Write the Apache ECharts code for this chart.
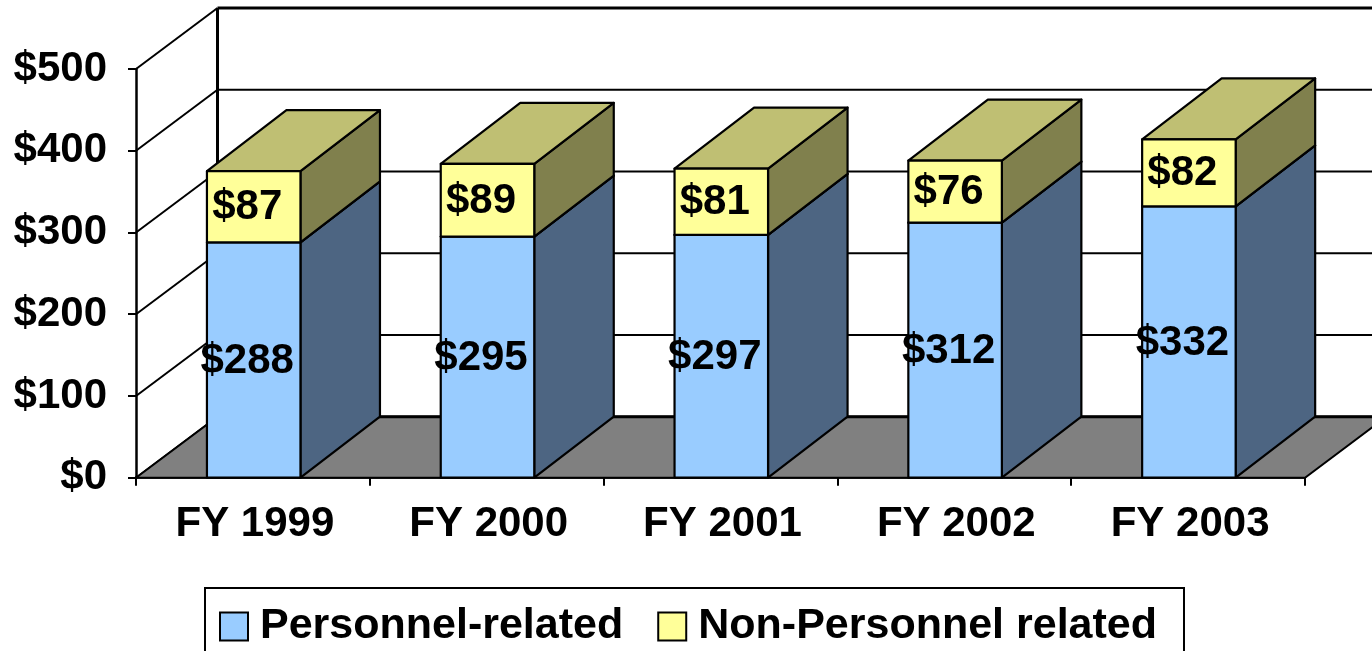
<!DOCTYPE html>
<html>
<head>
<meta charset="utf-8">
<style>
  html, body { margin: 0; padding: 0; background: #fff; overflow: hidden; }
  #chart { width: 1372px; height: 651px; }
</style>
</head>
<body>
<div id="chart"></div>
<script src="https://cdn.jsdelivr.net/npm/echarts@6/dist/echarts.min.js"></script>
<script>
const categories = ['FY 1999', 'FY 2000', 'FY 2001', 'FY 2002', 'FY 2003']
const personnel = [288, 295, 297, 312, 332]
const nonPersonnel = [87, 89, 81, 76, 82]
const yTicks = [0, 100, 200, 300, 400, 500]

const FONT = '"Liberation Sans", Arial, sans-serif'
// fake 3D offset of the box back edge, pixels
const WALL_DX = 81.5
const WALL_DY = -61
const BAR_DX = 79.5
const BAR_DY = -61
const BAR_RATIO = 0.4
const BAR_SHIFT = 0.8
const LABEL_SHIFT = -6.5

function poly(points, fill, z2) {
  return {
    type: 'polygon',
    z2: z2 || 1,
    shape: { points },
    style: { fill, stroke: '#000', lineWidth: 2.2, lineJoin: 'round' }
  }
}

function line(x1, y1, x2, y2, width) {
  return {
    type: 'line',
    shape: { x1, y1, x2, y2 },
    style: { stroke: '#000', lineWidth: width, fill: null }
  }
}

function renderWall(params, api) {
  const value = api.value(1)
  const band = api.size([1, 0])[0]
  const p = api.coord([0, value])
  const left = p[0] - band / 2
  const right = left + band * categories.length
  const children = [
    line(left, p[1], left + WALL_DX, p[1] + WALL_DY, 2)
  ]
  if (value > 0) {
    children.push(line(left + WALL_DX, p[1] + WALL_DY, right + WALL_DX, p[1] + WALL_DY, value === 500 ? 3 : 2))
  }
  if (value === 500) {
    const floor = api.coord([0, 0])
    children.push(line(left + WALL_DX, p[1] + WALL_DY, left + WALL_DX, floor[1] + WALL_DY, 3))
  }
  return { type: 'group', children }
}

function renderFloor(params, api) {
  const band = api.size([1, 0])[0]
  const p = api.coord([0, api.value(1)])
  const left = p[0] - band / 2
  const right = left + band * categories.length
  return {
    type: 'group',
    children: [
      {
        type: 'polygon',
        shape: {
          points: [
            [left, p[1]],
            [left + WALL_DX, p[1] + WALL_DY],
            [right + WALL_DX, p[1] + WALL_DY],
            [right, p[1]]
          ]
        },
        style: { fill: '#808080', stroke: '#000', lineWidth: 2 }
      },
      line(left + WALL_DX, p[1] + WALL_DY, right + WALL_DX, p[1] + WALL_DY, 3)
    ]
  }
}

function makeBarRenderer(front, side, top) {
  return function (params, api) {
    const idx = api.value(0)
    const band = api.size([1, 0])[0]
    const low = api.coord([idx, api.value(1)])
    const high = api.coord([idx, api.value(2)])
    const x0 = low[0] + BAR_SHIFT - band * BAR_RATIO / 2
    const x1 = x0 + band * BAR_RATIO
    const children = [
      poly([
        [x1, low[1]], [x1 + BAR_DX, low[1] + BAR_DY],
        [x1 + BAR_DX, high[1] + BAR_DY], [x1, high[1]]
      ], side),
      poly([
        [x0, high[1]], [x0 + BAR_DX, high[1] + BAR_DY],
        [x1 + BAR_DX, high[1] + BAR_DY], [x1, high[1]]
      ], top),
      poly([[x0, low[1]], [x1, low[1]], [x1, high[1]], [x0, high[1]]], front, 2),
      {
        type: 'text',
        z2: 5,
        style: {
          text: '$' + (api.value(2) - api.value(1)),
          x: (x0 + x1) / 2 + LABEL_SHIFT,
          y: (low[1] + high[1]) / 2 + 1,
          align: 'center',
          verticalAlign: 'middle',
          fill: '#000',
          font: 'bold 42px ' + FONT
        }
      }
    ]
    return { type: 'group', children }
  }
}

const personnelRows = personnel.map((v, i) => [i, 0, v])
const nonPersonnelRows = nonPersonnel.map((v, i) => [i, personnel[i], personnel[i] + v])

const chart = echarts.init(document.getElementById('chart'), null, { renderer: 'canvas' })
chart.setOption({
  backgroundColor: '#fff',
  animation: false,
  textStyle: { fontFamily: FONT },
  grid: { left: 136, top: 69, width: 1169, height: 408.7 },
  legend: {
    left: 205,
    top: 588,
    orient: 'horizontal',
    icon: 'rect',
    itemWidth: 28,
    itemHeight: 28,
    itemGap: 34,
    padding: [17, 27, 40, 14],
    borderColor: '#000',
    borderWidth: 2,
    itemStyle: { borderColor: '#000', borderWidth: 2 },
    textStyle: { color: '#000', fontWeight: 'bold', fontSize: 43, padding: [0, 0, 0, 7], fontFamily: FONT },
    data: ['Personnel-related', 'Non-Personnel related']
  },
  xAxis: {
    type: 'category',
    data: categories,
    axisLine: { lineStyle: { color: '#000', width: 2.5 } },
    axisTick: { show: true, alignWithLabel: false, length: 8, lineStyle: { color: '#000', width: 2 } },
    axisLabel: { color: '#000', fontWeight: 'bold', fontSize: 42, margin: 26, padding: [0, 0, 0, 4], fontFamily: FONT }
  },
  yAxis: {
    type: 'value',
    min: 0,
    max: 500,
    interval: 100,
    axisLine: { show: true, lineStyle: { color: '#000', width: 2.5 } },
    axisTick: { show: true, length: 8, lineStyle: { color: '#000', width: 2 } },
    splitLine: { show: false },
    axisLabel: { color: '#000', fontWeight: 'bold', fontSize: 42, margin: 29, padding: [2, 0, 0, 0], fontFamily: FONT, formatter: v => '$' + v }
  },
  series: [
    {
      name: 'wall',
      type: 'custom',
      z: 1,
      silent: true,
      renderItem: renderWall,
      encode: { x: 0, y: 1 },
      data: yTicks.map(v => [0, v])
    },
    {
      name: 'floor',
      type: 'custom',
      z: 2,
      silent: true,
      renderItem: renderFloor,
      encode: { x: 0, y: 1 },
      data: [[0, 0]]
    },
    {
      name: 'Personnel-related',
      type: 'custom',
      z: 3,
      itemStyle: { color: '#99CCFF' },
      renderItem: makeBarRenderer('#99CCFF', '#4D6582', '#4D6582'),
      encode: { x: 0, y: [1, 2] },
      data: personnelRows
    },
    {
      name: 'Non-Personnel related',
      type: 'custom',
      z: 4,
      itemStyle: { color: '#FFFF99' },
      renderItem: makeBarRenderer('#FFFF99', '#80804D', '#BFBF73'),
      encode: { x: 0, y: [1, 2] },
      data: nonPersonnelRows
    }
  ]
})

window.addEventListener('resize', () => {
  chart.resize()
})
</script>
</body>
</html>
